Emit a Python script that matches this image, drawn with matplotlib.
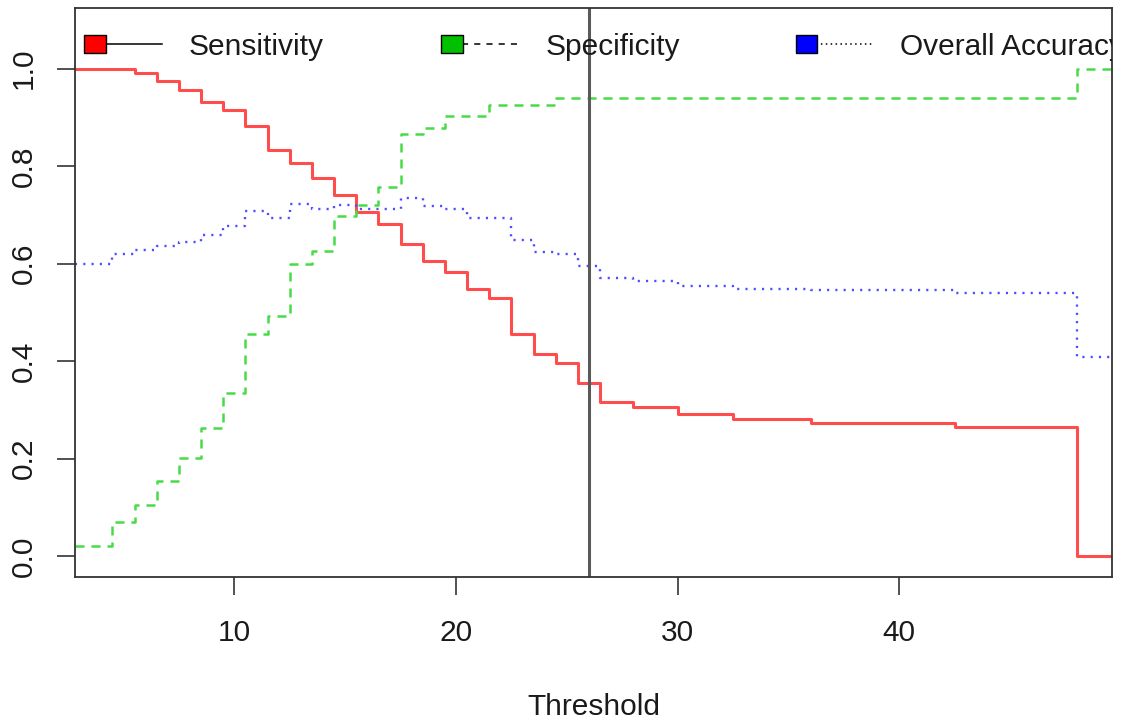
import matplotlib
matplotlib.use("Agg")
import matplotlib.pyplot as plt
from matplotlib.patches import Rectangle

plt.rcParams['font.family'] = ['Liberation Sans', 'DejaVu Sans']

# cut points where the curves change (left edge of each step)
thresholds = [2.8, 4.5, 5.5, 6.5, 7.5, 8.5, 9.5, 10.5, 11.5, 12.5, 13.5, 14.5,
              15.5, 16.5, 17.5, 18.5, 19.5, 20.5, 21.5, 22.5, 23.5, 24.5,
              25.5, 26.5, 28, 30, 32.5, 36, 42.5, 48]
sensitivity = [1.0, 1.0, 0.991, 0.974, 0.957, 0.931, 0.916, 0.882, 0.833,
               0.806, 0.776, 0.741, 0.706, 0.681, 0.641, 0.606, 0.582, 0.548,
               0.530, 0.456, 0.415, 0.397, 0.356, 0.316, 0.306, 0.291, 0.281,
               0.274, 0.265, 0.0]
specificity = [0.022, 0.070, 0.106, 0.155, 0.202, 0.263, 0.334, 0.456, 0.493,
               0.600, 0.626, 0.698, 0.720, 0.758, 0.866, 0.878, 0.902, 0.902,
               0.926, 0.926, 0.926, 0.939, 0.939, 0.939, 0.939, 0.939, 0.939,
               0.939, 0.939, 1.0]
accuracy = [0.599, 0.619, 0.628, 0.637, 0.645, 0.659, 0.678, 0.708, 0.693,
            0.722, 0.712, 0.721, 0.713, 0.713, 0.734, 0.719, 0.712, 0.693,
            0.693, 0.649, 0.623, 0.620, 0.595, 0.570, 0.565, 0.554, 0.549,
            0.545, 0.540, 0.408]
cutoff = 26
xticks = [10, 20, 30, 40]
yticks = [0.0, 0.2, 0.4, 0.6, 0.8, 1.0]

xmin, xmax = 2.81, 49.6
ymin, ymax = -0.0432, 1.1232

fig = plt.figure(figsize=(11.22, 7.25), dpi=100)
ax = fig.add_axes([0.0668, 0.2037, 0.9243, 0.7846])

x_ext = thresholds + [xmax]
ax.step(x_ext, sensitivity + sensitivity[-1:], where='post',
        color='#ff4d4d', lw=2.2)
ax.step(x_ext, specificity + specificity[-1:], where='post',
        color='#47dc47', lw=1.8, dashes=(3.6, 2.8))
ax.step(x_ext, accuracy + accuracy[-1:], where='post',
        color='#4d4dff', lw=1.7, dashes=(0.9, 2.6))
ax.axvline(cutoff, color='#5a5a5a', lw=2.2)

ax.set_xlim(xmin, xmax)
ax.set_ylim(ymin, ymax)
ax.set_xticks(xticks)
ax.set_yticks(yticks)
ax.set_yticklabels([f"{v:.1f}" for v in yticks], rotation=90, va='center')
ax.tick_params(axis='both', length=13, width=1.2, color='#333333',
               labelsize=21.5, labelcolor='#1a1a1a')
ax.tick_params(axis='x', pad=17)
ax.tick_params(axis='y', pad=14)
for s in ax.spines.values():
    s.set_linewidth(1.3)
    s.set_color('#333333')
ax.set_xlabel("Threshold", fontsize=21.5, color='#1a1a1a', labelpad=33)

# legend row along the top, drawn by hand like R's legend(horiz=TRUE)
legend_items = [("Sensitivity", '#ff0000', (None, None), 0.0087),
                ("Specificity", '#00c000', (4.0, 4.0), 0.353),
                ("Overall Accuracy", '#0000ff', (1.0, 2.2), 0.695)]
ly = 0.938
for label, fill, dash, x0 in legend_items:
    seg, = ax.plot([x0 + 0.02, x0 + 0.075], [ly, ly], transform=ax.transAxes,
                   color='black', lw=1.1, clip_on=True)
    if dash[0] is not None:
        seg.set_dashes(dash)
    ax.add_patch(Rectangle((x0, ly - 0.016), 0.021, 0.032,
                           transform=ax.transAxes, facecolor=fill,
                           edgecolor='black', lw=1.0, zorder=5))
    ax.text(x0 + 0.101, ly - 0.006, label, transform=ax.transAxes,
            fontsize=21.5, va='center', ha='left', color='#1a1a1a',
            clip_on=True)

fig.savefig("out.png", dpi=100)
